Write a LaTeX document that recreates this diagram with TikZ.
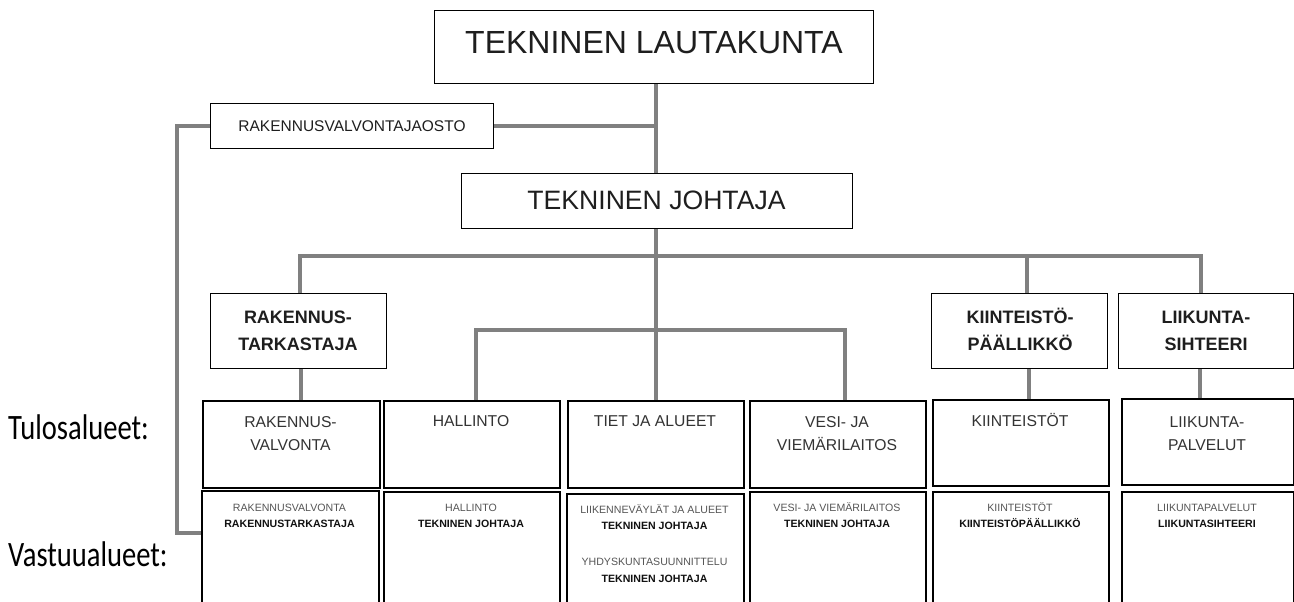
\documentclass[tikz,border=0pt]{standalone}
\usepackage{fontspec}
\setmainfont{Liberation Sans}
\newfontfamily\lblfont[FakeStretch=0.8]{Carlito}
\usetikzlibrary{backgrounds}
\newcommand\fsz[2]{\fontsize{#1}{#2}\selectfont}
\definecolor{conncol}{HTML}{808080}
\definecolor{topcol}{HTML}{1E1E1E}
\definecolor{tulcol}{HTML}{333333}
\definecolor{vascol}{HTML}{555555}
\definecolor{boldcol}{HTML}{111111}
\begin{document}
\begin{tikzpicture}[x=1pt,y=-1pt,
  box/.style={draw=black, line width=1.3pt, fill=white, inner sep=0pt, anchor=north west, rectangle},
  rowbox/.style={box, line width=2pt},
  conn/.style={draw=conncol, line width=4pt},
  txt/.style={inner sep=0pt, anchor=base},
  toptxt/.style={txt, text=topcol},
  headtxt/.style={txt, text=topcol, font=\fsz{18}{21}\bfseries},
  tultxt/.style={txt, text=tulcol, font=\fsz{15.7}{19}},
  vastxt/.style={txt, text=vascol, font=\fsz{10.6}{13}},
  vasbold/.style={txt, text=boldcol, font=\fsz{10.6}{13}\bfseries},
  lbl/.style={inner sep=0pt, anchor=base west, font=\lblfont\fsz{35.7}{40}, text=black}]
\useasboundingbox (0,0) rectangle (1294,602);
\clip (0,0) rectangle (1294,602);

\coordinate (b1) at (0,256);
\coordinate (b2) at (0,330);
\coordinate (lc) at (177,533);

% ---------- boxes ----------
\node[box, minimum width=439pt, minimum height=73pt] (lk) at (434,10) {};
\node[box, minimum width=283pt, minimum height=45pt] (jaosto) at (210,103) {};
\node[box, minimum width=391pt, minimum height=55pt] (tj) at (461,173) {};
\node[box, minimum width=176pt, minimum height=75pt] (rt) at (210,293) {};
\node[box, minimum width=176pt, minimum height=75pt] (kp) at (931,293) {};
\node[box, minimum width=175pt, minimum height=75pt] (lsh) at (1118,293) {};

\node[rowbox, minimum width=177pt, minimum height=87pt] (t1) at (202,400) {};
\node[rowbox, minimum width=176pt, minimum height=87pt] (t2) at (383,400) {};
\node[rowbox, minimum width=176pt, minimum height=87pt] (t3) at (567,400) {};
\node[rowbox, minimum width=176pt, minimum height=87pt] (t4) at (749,400) {};
\node[rowbox, minimum width=176pt, minimum height=86pt] (t5) at (932,399) {};
\node[rowbox, minimum width=172pt, minimum height=86pt] (t6) at (1121,398) {};

\node[rowbox, minimum width=177pt, minimum height=150pt] (v1) at (201,490) {};
\node[rowbox, minimum width=176pt, minimum height=150pt] (v2) at (383,491) {};
\node[rowbox, minimum width=177pt, minimum height=150pt] (v3) at (566,493) {};
\node[rowbox, minimum width=176pt, minimum height=150pt] (v4) at (749,491) {};
\node[rowbox, minimum width=176pt, minimum height=150pt] (v5) at (932,491) {};
\node[rowbox, minimum width=172pt, minimum height=150pt] (v6) at (1121,491) {};

% ---------- texts ----------
\node[toptxt, font=\fsz{32}{38}] (lkt) at (654,53.5) {TEKNINEN LAUTAKUNTA};
\node[toptxt, font=\fsz{15.5}{18}] (jaostot) at (352,131.5) {RAKENNUSVALVONTAJAOSTO};
\node[toptxt, font=\fsz{26.6}{32}] (tjt) at (656.5,209) {TEKNINEN JOHTAJA};

\node[headtxt] (rta) at (298,323.5) {RAKENNUS-};
\node[headtxt] (rtb) at (298,350.5) {TARKASTAJA};
\node[headtxt] (kpa) at (1020,323.5) {KIINTEISTÖ-};
\node[headtxt] (kpb) at (1020,350.5) {PÄÄLLIKKÖ};
\node[headtxt] (lsha) at (1206,323.5) {LIIKUNTA-};
\node[headtxt] (lshb) at (1206,350.5) {SIHTEERI};

\node[tultxt] (t1a) at (290.5,427) {RAKENNUS-};
\node[tultxt] (t1b) at (290.5,450) {VALVONTA};
\node[tultxt] (t2a) at (471,426.3) {HALLINTO};
\node[tultxt] (t3a) at (655,426) {TIET JA ALUEET};
\node[tultxt] (t4a) at (837,427) {VESI- JA};
\node[tultxt] (t4b) at (837,450) {VIEMÄRILAITOS};
\node[tultxt] (t5a) at (1020,426.3) {KIINTEISTÖT};
\node[tultxt] (t6a) at (1207,427) {LIIKUNTA-};
\node[tultxt] (t6b) at (1207,450) {PALVELUT};

\node[vastxt] (v1a) at (289.5,511.8) {RAKENNUSVALVONTA};
\node[vasbold] (v1b) at (289.5,527.7) {RAKENNUSTARKASTAJA};
\node[vastxt] (v2a) at (471,511.8) {HALLINTO};
\node[vasbold] (v2b) at (471,527.7) {TEKNINEN JOHTAJA};
\node[vastxt] (v3a) at (654.5,513.8) {LIIKENNEVÄYLÄT JA ALUEET};
\node[vasbold] (v3b) at (654.5,529.7) {TEKNINEN JOHTAJA};
\node[vastxt] (v3c) at (654.5,565.2) {YHDYSKUNTASUUNNITTELU};
\node[vasbold] (v3d) at (654.5,582.4) {TEKNINEN JOHTAJA};
\node[vastxt] (v4a) at (837,511.8) {VESI- JA VIEMÄRILAITOS};
\node[vasbold] (v4b) at (837,527.7) {TEKNINEN JOHTAJA};
\node[vastxt] (v5a) at (1020,511.8) {KIINTEISTÖT};
\node[vasbold] (v5b) at (1020,527.7) {KIINTEISTÖPÄÄLLIKKÖ};
\node[vastxt] (v6a) at (1207,511.8) {LIIKUNTAPALVELUT};
\node[vasbold] (v6b) at (1207,527.7) {LIIKUNTASIHTEERI};

\node[lbl] (tulos) at (8,439) {Tulosalueet:};
\node[lbl] (vastuu) at (8,566.5) {Vastuualueet:};

% ---------- connectors (behind the boxes) ----------
\begin{pgfonlayer}{background}
\draw[conn] (lk.south -| t3.north) -- (t3.north |- tj.north);
\draw[conn] (jaosto.east) -- (jaosto.east -| t3.north);
\draw[conn] (jaosto.west) -| (lc) -- (lc -| v1.west);
\draw[conn, line width=4.6pt] (t3.north |- tj.south) -- (t3.north);
\draw[conn] ([xshift=1pt]rt.north) -- ([xshift=1pt]rt.north |- b1)
  -- ([xshift=-5pt]lsh.north |- b1) -- ([xshift=-5pt]lsh.north);
\draw[conn] ([xshift=7pt]kp.north |- b1) -- ([xshift=7pt]kp.north);
\draw[conn] ([xshift=4pt]t2.north) -- ([xshift=4pt]t2.north |- b2)
  -- ([xshift=7pt]t4.north |- b2) -- ([xshift=7pt]t4.north);
\draw[conn] ([xshift=2pt]rt.south) -- ([xshift=2pt]rt.south |- t1.north);
\draw[conn] ([xshift=9pt]kp.south) -- ([xshift=9pt]kp.south |- t5.north);
\draw[conn] ([xshift=-6pt]lsh.south) -- ([xshift=-6pt]lsh.south |- t6.north);
\end{pgfonlayer}
\end{tikzpicture}
\end{document}
